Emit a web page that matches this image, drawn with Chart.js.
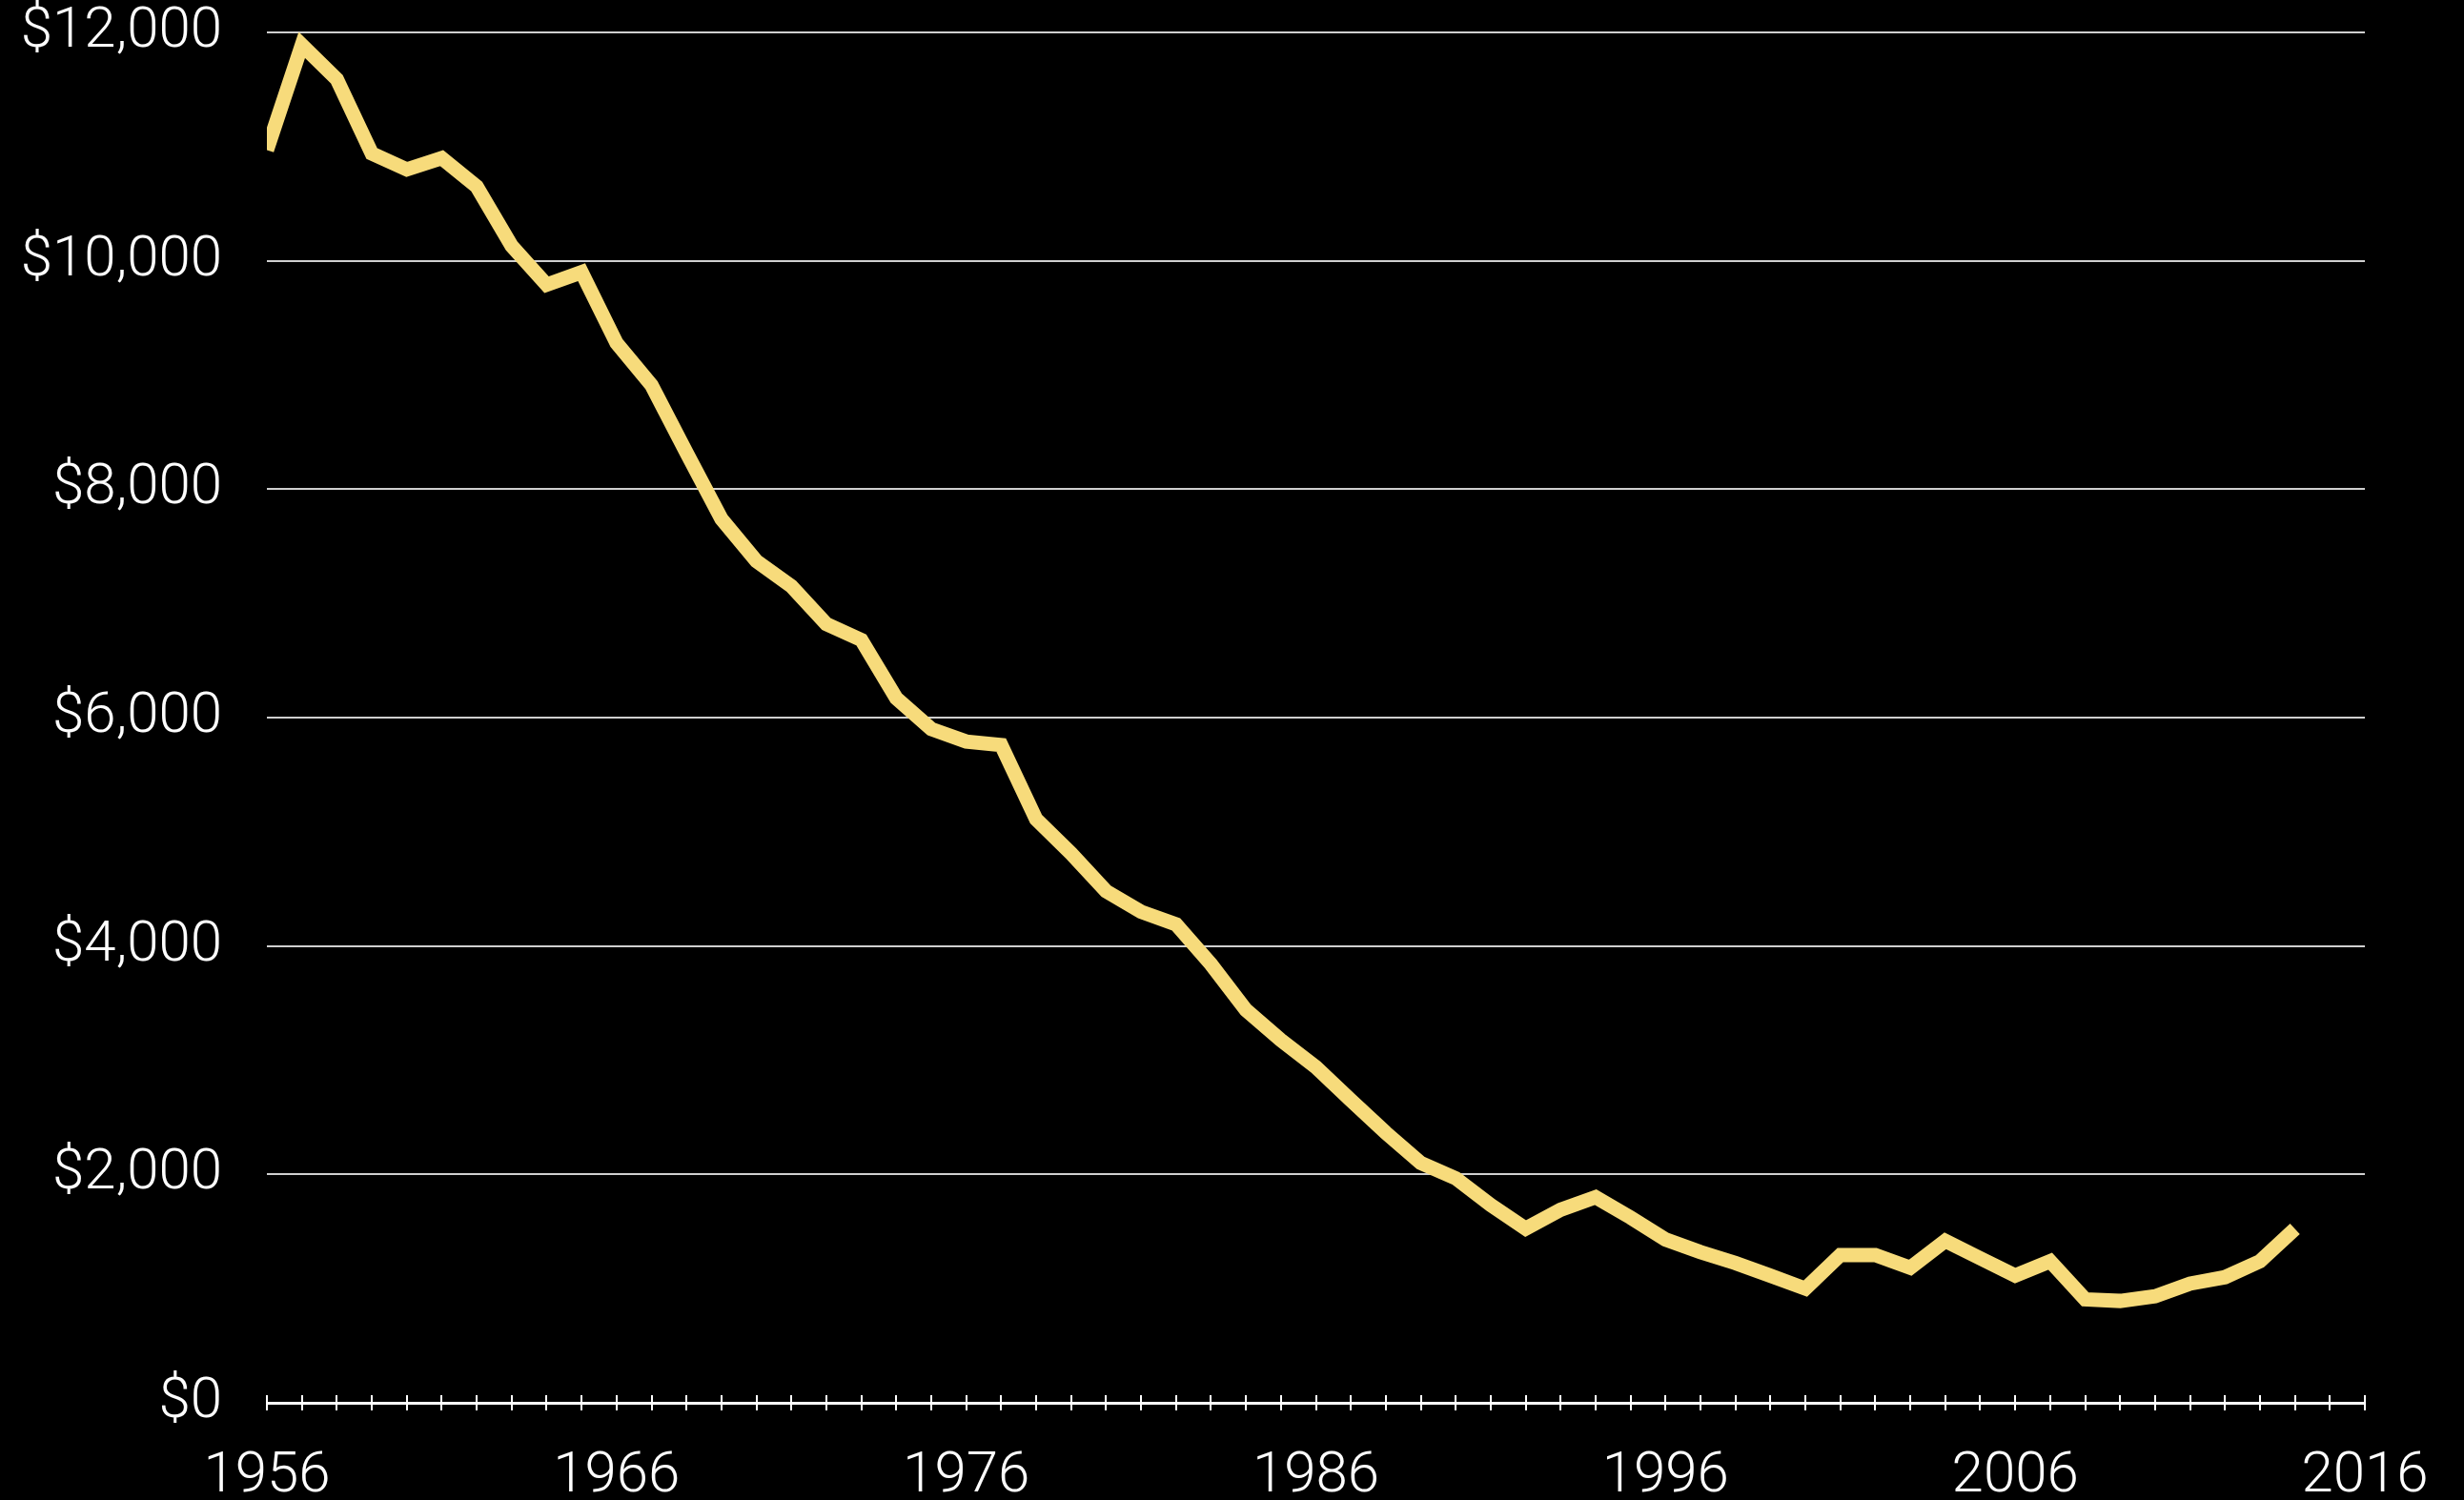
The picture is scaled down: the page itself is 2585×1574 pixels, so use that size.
<!DOCTYPE html>
<html>
<head>
<meta charset="utf-8">
<script src="https://cdn.jsdelivr.net/npm/chart.js@4.4.1/dist/chart.umd.min.js"></script>
<style>
  html, body { margin: 0; padding: 0; background: #000; }
  #wrap { width: 2585px; height: 1574px; position: relative; }
</style>
</head>
<body>
<div id="wrap"><canvas id="c" width="2585" height="1574"></canvas></div>
<script>
const years = [1956,1957,1958,1959,1960,1961,1962,1963,1964,1965,
  1966,1967,1968,1969,1970,1971,1972,1973,1974,1975,
  1976,1977,1978,1979,1980,1981,1982,1983,1984,1985,
  1986,1987,1988,1989,1990,1991,1992,1993,1994,1995,
  1996,1997,1998,1999,2000,2001,2002,2003,2004,2005,
  2006,2007,2008,2009,2010,2011,2012,2013,2014];
const values = [10970,11890,11590,10940,10800,10900,10650,10130,9790,9900,
  9280,8910,8320,7740,7370,7150,6820,6680,6170,5900,
  5790,5760,5110,4810,4480,4300,4190,3840,3440,3175,
  2940,2650,2365,2100,1966,1732,1526,1691,1801,1622,
  1430,1320,1223,1113,1000,1294,1294,1183,1419,1265,
  1114,1239,906,892,933,1044,1100,1239,1522];
const xTickLabels = ['1956','1966','1976','1986','1996','2006','2016'];
const yTickValues = [0,2000,4000,6000,8000,10000,12000];

const FONT = { family: 'Roboto, "Liberation Sans", sans-serif', size: 60, weight: 300, lineHeight: 1.0 };

const crossTicks = {
  id: 'crossTicks',
  afterDraw(chart) {
    const xs = chart.scales.x;
    const ctx = chart.ctx;
    const y0 = chart.chartArea.bottom;
    ctx.save();
    ctx.strokeStyle = '#ffffff';
    ctx.lineWidth = 2;
    ctx.beginPath();
    xs.ticks.forEach(t => {
      const px = Math.round(xs.getPixelForValue(t.value));
      ctx.moveTo(px, y0 - 8);
      ctx.lineTo(px, y0);
    });
    ctx.stroke();
    ctx.restore();
  }
};

new Chart(document.getElementById('c'), {
  type: 'line',
  data: {
    datasets: [{
      data: years.map((y, i) => ({ x: y, y: values[i] })),
      borderColor: '#F7DB7B',
      borderWidth: 15,
      borderJoinStyle: 'miter',
      borderCapStyle: 'butt',
      pointRadius: 0,
      tension: 0,
      fill: false
    }]
  },
  options: {
    responsive: false,
    animation: false,
    devicePixelRatio: 1,
    layout: { padding: { top: 34, right: 104, bottom: 0, left: 0 } },
    plugins: { legend: { display: false }, tooltip: { enabled: false } },
    scales: {
      x: {
        type: 'linear',
        min: 1956, max: 2016,
        afterFit(s) { s.height = 102; s.paddingLeft = 0; s.paddingRight = 0; s.paddingTop = 0; s.paddingBottom = 0; },
        ticks: {
          stepSize: 1,
          autoSkip: false,
          maxRotation: 0,
          color: '#ffffff',
          font: FONT,
          padding: 40,
          callback: v => xTickLabels.includes(String(v)) ? String(v) : ''
        },
        grid: { drawOnChartArea: false, drawTicks: true, tickLength: 8, color: '#ffffff', lineWidth: 2 },
        border: { display: true, color: '#ffffff', width: 3 }
      },
      y: {
        min: 0, max: 12000,
        afterFit(s) { s.width = 280; s.paddingTop = 0; s.paddingBottom = 0; s.paddingLeft = 0; s.paddingRight = 0; },
        afterBuildTicks(s) { s.ticks = yTickValues.map(v => ({ value: v })); },
        ticks: {
          color: '#ffffff',
          font: FONT,
          padding: 47,
          callback: v => '$' + Number(v).toLocaleString('en-US')
        },
        grid: { color: '#cfcfcf', lineWidth: 2, drawTicks: false },
        border: { display: false }
      }
    }
  },
  plugins: [crossTicks]
});
</script>
</body>
</html>
